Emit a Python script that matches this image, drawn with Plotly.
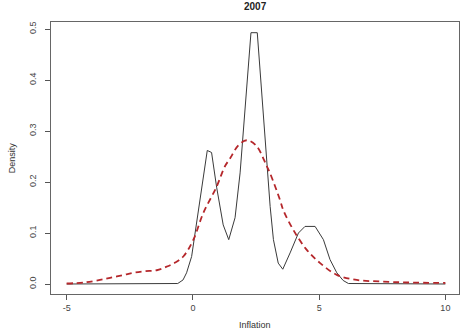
import plotly.graph_objects as go

# Kernel density estimate of 2007 inflation
kde_x = [-5, -1.0, -0.6, -0.39, -0.25, -0.05, 0.15, 0.41, 0.57, 0.74, 0.94, 1.2, 1.42,
         1.67, 1.87, 2.30, 2.55, 3.06, 3.19, 3.38, 3.56, 3.85, 4.18, 4.44, 4.84,
         5.17, 5.43, 5.70, 5.95, 6.16, 10]
kde_y = [0.0, 0.0, 0.001, 0.008, 0.022, 0.054, 0.12, 0.205, 0.262, 0.258, 0.19, 0.116, 0.087,
         0.13, 0.218, 0.493, 0.493, 0.152, 0.087, 0.041, 0.029, 0.061, 0.10, 0.113, 0.113,
         0.087, 0.048, 0.022, 0.007, 0.001, 0.0]

# Fitted (smoothed) density
fit_x = [-5, -4.3, -3.68, -3.28, -2.8, -2.36, -1.9, -1.43, -1.04, -0.7, -0.38, 0.02, 0.41,
         0.94, 1.27, 1.47, 1.8, 2.13, 2.5, 2.92, 3.05, 3.45, 3.58, 3.98, 4.51, 5.04,
         5.70, 6.49, 7.41, 8.5, 10]
fit_y = [0.001, 0.003, 0.008, 0.012, 0.017, 0.022, 0.025, 0.027, 0.034, 0.042, 0.054, 0.087, 0.139,
         0.191, 0.231, 0.246, 0.272, 0.282, 0.272, 0.232, 0.218, 0.165, 0.145, 0.106, 0.067, 0.041,
         0.018, 0.008, 0.005, 0.003, 0.002]

x_ticks = [-5, 0, 5, 10]
y_ticks = [0.0, 0.1, 0.2, 0.3, 0.4, 0.5]
y_tick_text = ["0.0", "0.1", "0.2", "0.3", "0.4", "0.5"]

FONT = "Liberation Sans, Arial, sans-serif"

fig = go.Figure()
fig.add_trace(go.Scatter(x=kde_x, y=kde_y, mode="lines",
                         line=dict(color="#3a3a3a", width=1), hoverinfo="skip"))
fig.add_trace(go.Scatter(x=fit_x, y=fit_y, mode="lines", line_shape="spline",
                         line=dict(color="#b5272b", width=1.8, dash="6px,4px"), hoverinfo="skip"))

axis_common = dict(showgrid=False, zeroline=False, showline=True, linecolor="#666666",
                   linewidth=1, mirror=True, ticks="outside", ticklen=5, tickwidth=1,
                   tickcolor="#555555", tickfont=dict(family=FONT, size=9, color="#444444"))

fig.update_layout(
    width=460, height=333,
    margin=dict(l=51, r=1, t=22, b=39),
    paper_bgcolor="white", plot_bgcolor="white",
    showlegend=False,
    font=dict(family=FONT, color="#222222"),
    xaxis=dict(range=[-5.62, 10.54], tickvals=x_ticks, ticktext=[str(v) for v in x_ticks],
               **axis_common),
    yaxis=dict(range=[-0.0196, 0.514], tickvals=y_ticks, ticktext=y_tick_text,
               tickangle=-90, ticklabelstandoff=5, **axis_common),
    annotations=[
        dict(text="<b>2007</b>", x=0.5, xref="paper", y=1.0, yref="paper", yanchor="middle",
             yshift=16, showarrow=False, font=dict(family=FONT, size=10, color="#222222")),
        dict(text="Inflation", x=0.5, xref="paper", y=-0.115, yref="paper",
             showarrow=False, yanchor="middle", font=dict(family=FONT, size=9, color="#333333")),
        dict(text="Density", x=-0.095, xref="paper", y=0.5, yref="paper", textangle=-90,
             showarrow=False, xanchor="center", font=dict(family=FONT, size=9, color="#333333")),
    ],
)

fig.write_html("out.html")
